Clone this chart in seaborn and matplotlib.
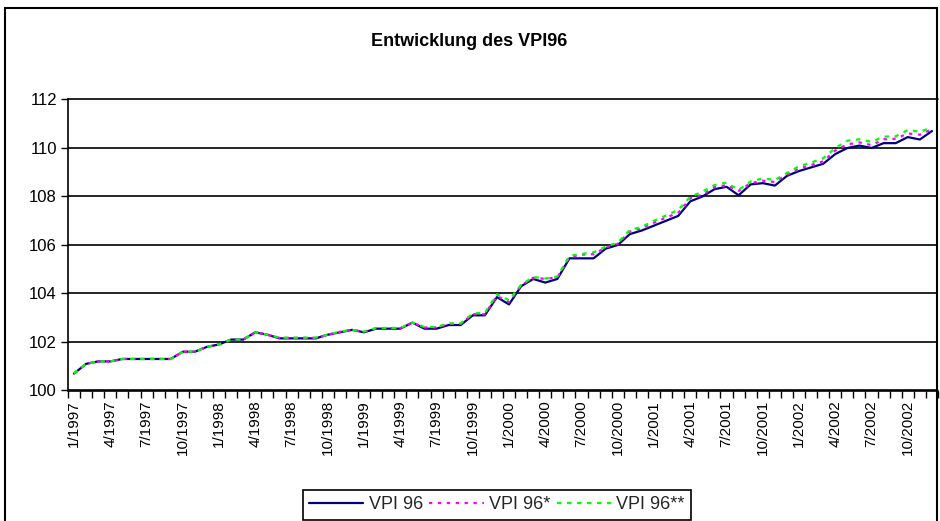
import matplotlib
matplotlib.use("Agg")
import matplotlib.pyplot as plt
from matplotlib.patches import Rectangle
from matplotlib.lines import Line2D
import numpy as np
import pandas as pd
import seaborn as sns

# Monthly categories 1/1997 .. 12/2002
months = [f"{m}/{y}" for y in range(1997, 2003) for m in range(1, 13)]

vpi96 = [
    100.7, 101.1, 101.2, 101.2, 101.3, 101.3, 101.3, 101.3, 101.3, 101.6, 101.6, 101.8,
    101.9, 102.1, 102.1, 102.4, 102.3, 102.15, 102.15, 102.15, 102.15, 102.3, 102.4, 102.5,
    102.4, 102.55, 102.55, 102.55, 102.8, 102.55, 102.55, 102.7, 102.7, 103.1, 103.1, 103.85,
    103.55, 104.3, 104.6, 104.45, 104.6, 105.45, 105.45, 105.45, 105.85, 106.0, 106.45, 106.6,
    106.8, 107.0, 107.2, 107.8, 108.0, 108.3, 108.4, 108.05, 108.5, 108.55, 108.45, 108.85,
    109.05, 109.2, 109.35, 109.75, 110.0, 110.1, 110.0, 110.2, 110.2, 110.45, 110.35, 110.7,
]
vpi96_s = [
    100.7, 101.1, 101.2, 101.2, 101.3, 101.3, 101.3, 101.3, 101.3, 101.6, 101.6, 101.8,
    101.9, 102.1, 102.1, 102.4, 102.3, 102.17, 102.17, 102.17, 102.17, 102.3, 102.42, 102.5,
    102.42, 102.57, 102.57, 102.57, 102.8, 102.6, 102.6, 102.75, 102.75, 103.15, 103.15, 103.9,
    103.65, 104.33, 104.65, 104.6, 104.67, 105.5, 105.6, 105.62, 105.9, 106.05, 106.55, 106.7,
    106.92, 107.13, 107.33, 107.92, 108.08, 108.38, 108.47, 108.23, 108.55, 108.65, 108.6, 108.9,
    109.15, 109.3, 109.45, 109.9, 110.15, 110.23, 110.12, 110.36, 110.38, 110.6, 110.55, 110.77,
]
vpi96_ss = [
    100.7, 101.1, 101.2, 101.2, 101.3, 101.3, 101.3, 101.3, 101.3, 101.6, 101.6, 101.8,
    101.9, 102.1, 102.1, 102.4, 102.3, 102.18, 102.18, 102.18, 102.18, 102.3, 102.43, 102.5,
    102.43, 102.58, 102.58, 102.58, 102.8, 102.62, 102.62, 102.77, 102.77, 103.18, 103.2, 103.97,
    103.72, 104.36, 104.68, 104.62, 104.7, 105.55, 105.63, 105.7, 105.93, 106.1, 106.62, 106.75,
    107.0, 107.22, 107.45, 107.99, 108.2, 108.47, 108.57, 108.27, 108.62, 108.75, 108.68, 108.97,
    109.25, 109.4, 109.58, 110.0, 110.3, 110.36, 110.25, 110.47, 110.48, 110.74, 110.67, 110.85,
]
series_names = ["VPI 96", "VPI 96*", "VPI 96**"]
colors = {"VPI 96": "#000080", "VPI 96*": "#FF00FF", "VPI 96**": "#00FF00"}
dash_styles = {"VPI 96": "", "VPI 96*": (1.5, 2.5), "VPI 96**": (2, 2.5)}

y_ticks = [100, 102, 104, 106, 108, 110, 112]

df = pd.DataFrame({
    "pos": np.tile(np.arange(len(months)), 3),
    "value": vpi96 + vpi96_s + vpi96_ss,
    "series": np.repeat(series_names, len(months)),
})

sns.set_theme(style="white")
plt.rcParams["font.family"] = ["Liberation Sans", "DejaVu Sans"]

W, H = 940, 521
fig = plt.figure(figsize=(W / 100, H / 100), dpi=100)
fig.patch.set_facecolor("white")

# plot area in pixel coordinates
left, right, top, bottom = 68, 938, 99.5, 390.5
ax = fig.add_axes([left / W, 1 - bottom / H, (right - left) / W, (bottom - top) / H])
ax.set_facecolor("white")

sns.lineplot(data=df, x="pos", y="value", hue="series", style="series",
             hue_order=series_names, style_order=series_names,
             palette=colors, dashes=dash_styles, linewidth=1.6,
             legend=False, ax=ax)

ax.set_xlim(-0.5, len(months) - 0.5)
ax.set_ylim(100, 112)
ax.set_xlabel("")
ax.set_ylabel("")

# y axis
ax.set_yticks(y_ticks)
ax.set_yticklabels([str(t) for t in y_ticks], fontsize=12, color="black")
ax.tick_params(axis="y", which="major", direction="out", length=5, width=1,
               color="black", pad=3, left=True)
ax.yaxis.grid(True, color="black", linewidth=1.2)
ax.set_axisbelow(True)
# top gridline at the upper limit of the value axis
ax.axhline(112, color="black", linewidth=1.2, clip_on=False, zorder=0.5)

# x axis: labels every quarter, tick marks between categories
label_pos = list(range(0, len(months), 3))
ax.set_xticks(label_pos)
ax.set_xticklabels([months[i] for i in label_pos], rotation=90, fontsize=11,
                   color="black", va="top", ha="center")
ax.set_xticks(np.arange(-0.5, len(months) + 0.5, 1), minor=True)
ax.tick_params(axis="x", which="major", length=0, pad=7, bottom=True)
ax.tick_params(axis="x", which="minor", direction="out", length=5, width=1,
               color="black", bottom=True)

for side in ["top", "right"]:
    ax.spines[side].set_visible(False)
for side in ["left", "bottom"]:
    ax.spines[side].set_visible(True)
    ax.spines[side].set_color("black")
    ax.spines[side].set_linewidth(1.2)

# title
fig.text(469 / W, 1 - 41 / H, "Entwicklung des VPI96", ha="center", va="center",
         fontsize=13, fontweight="bold", color="black")

# legend
handles = [Line2D([], [], color=colors[n], linewidth=1.6,
                  linestyle=("-" if dash_styles[n] == "" else (0, dash_styles[n])))
           for n in series_names]
leg = fig.legend(handles, series_names, loc="upper left",
                 bbox_to_anchor=(303 / W, 1 - 490 / H), ncol=3, fontsize=13,
                 frameon=True, fancybox=False, edgecolor="black", framealpha=1,
                 handlelength=3.0, handletextpad=0.3, columnspacing=0.35,
                 borderpad=0.35, borderaxespad=0)
leg.get_frame().set_linewidth(1.2)

# outer chart frame
fig.add_artist(Rectangle((4.5 / W, -0.1), (937 - 4.5) / W, 1.1 - 8 / H,
                         transform=fig.transFigure, fill=False,
                         edgecolor="black", linewidth=1.5, clip_on=False))

fig.savefig("out.png", dpi=100, facecolor="white")
